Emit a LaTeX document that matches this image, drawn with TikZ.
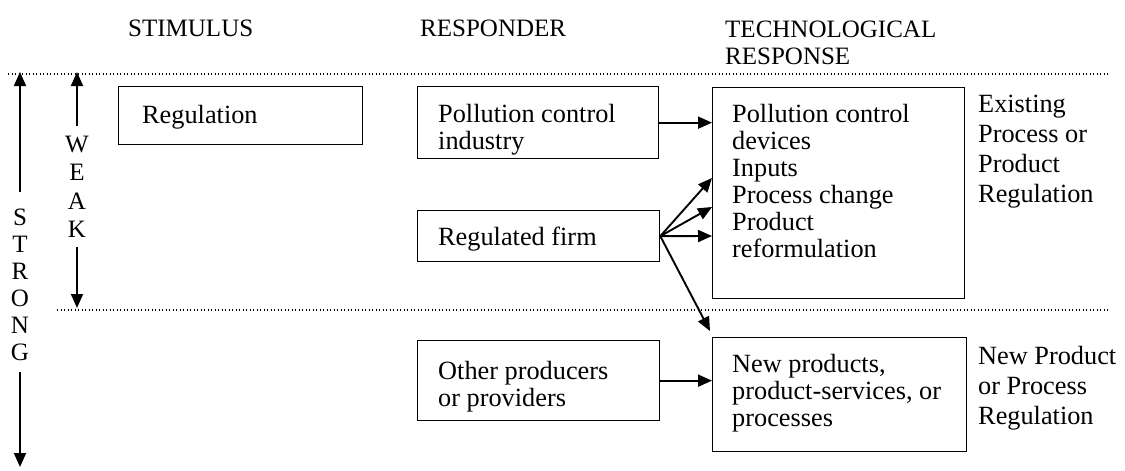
\documentclass[tikz,border=0pt]{standalone}
\usepackage{fontspec}
\setmainfont{Liberation Serif}
\usetikzlibrary{arrows.meta,calc}
\tikzset{
  hdr/.style={anchor=north west, inner sep=0pt, align=left, font=\fontsize{25}{27}\selectfont},
  txt/.style={anchor=north west, inner sep=0pt, align=left, font=\fontsize{26.3}{27}\selectfont},
  lbl/.style={anchor=north west, inner sep=0pt, align=left, font=\fontsize{26.3}{30}\selectfont},
  letter/.style={anchor=base, inner sep=0pt, font=\fontsize{25}{27}\selectfont},
  box/.style={draw, line width=1.3pt, anchor=north west, inner sep=0pt},
  arr/.style={line width=1.9pt, -{Triangle[length=14pt,width=12pt]}},
  dots/.style={line width=1.4pt, dash pattern=on 1.3pt off 2.2pt},
}
\begin{document}
\begin{tikzpicture}[x=1pt,y=-1pt]
\useasboundingbox (0,0) rectangle (1125,471);
% headers
\node[hdr] (hStim) at (128,17.1) {\strut STIMULUS};
\node[hdr] (hResp) at (420,17.1) {\strut RESPONDER};
\node[hdr] (hTech) at (725,18.1) {\strut TECHNOLOGICAL\\RESPONSE};
% dotted lines
\coordinate (dT1) at (8,74);
\coordinate (dT2) at (1108,74);
\coordinate (dM1) at (57,310);
\coordinate (dM2) at (1108,310);
\draw[dots] (dT1) -- (dT2);
\draw[dots] (dM1) -- (dM2);
% STRONG
\foreach \c [count=\i] in {S,T,R,O,N,G}{
  \node[letter] (st\i) at (20,{225+27*(\i-1)}) {\c};
}
\coordinate (sTop) at (20,72);
\coordinate (sA) at (20,192);
\coordinate (sB) at (20,372);
\coordinate (sBot) at (20,467);
\draw[arr] (sA) -- (sTop);
\draw[arr] (sB) -- (sBot);
% WEAK
\foreach \c [count=\i] in {W,E,A,K}{
  \node[letter] (wk\i) at (77,{152+28.5*(\i-1)}) {\c};
}
\coordinate (wTop) at (77,72);
\coordinate (wA) at (77,126);
\coordinate (wB) at (77,247);
\coordinate (wBot) at (77,308);
\draw[arr] (wA) -- (wTop);
\draw[arr] (wB) -- (wBot);
% boxes
\node[box, minimum width=244pt, minimum height=58pt] (reg) at (118,86) {};
\node[txt] (regT) at (142,104.1) {\strut Regulation};
\node[box, minimum width=241pt, minimum height=72pt] (poll) at (417,86) {};
\node[txt] (pollT) at (438,103.1) {\strut Pollution control\\industry};
\node[box, minimum width=242pt, minimum height=51pt] (firm) at (417,210) {};
\node[txt] (firmT) at (438,226.1) {\strut Regulated firm};
\node[box, minimum width=242pt, minimum height=80pt] (other) at (417,340) {};
\node[txt] (otherT) at (438,360.1) {\strut Other producers\\or providers};
\node[box, minimum width=252pt, minimum height=211pt] (tech) at (712,87) {};
\node[txt] (techT) at (732,103.1) {\strut Pollution control\\devices\\Inputs\\Process change\\Product\\reformulation};
\node[box, minimum width=254pt, minimum height=114pt] (newp) at (712,337) {};
\node[txt] (newpT) at (732,353.1) {\strut New products,\\product-services, or\\processes};
% side labels
\node[lbl] (exist) at (978,91.1) {\strut Existing\\Process or\\Product\\Regulation};
\node[lbl] (newl) at (978,343.1) {\strut New Product\\or Process\\Regulation};
% arrows
\draw[arr] (poll.east) -- (poll.east -| tech.west);
\coordinate (t1) at (712,178);
\coordinate (t2) at (712,207);
\coordinate (t3) at (712,236);
\coordinate (t4) at (710,331);
\draw[arr] (firm.east) -- (t1);
\draw[arr] (firm.east) -- (t2);
\draw[arr] (firm.east) -- (t3);
\draw[arr] (firm.east) -- (t4);
\draw[arr] (other.east) -- (other.east -| newp.west);
\end{tikzpicture}
\end{document}
